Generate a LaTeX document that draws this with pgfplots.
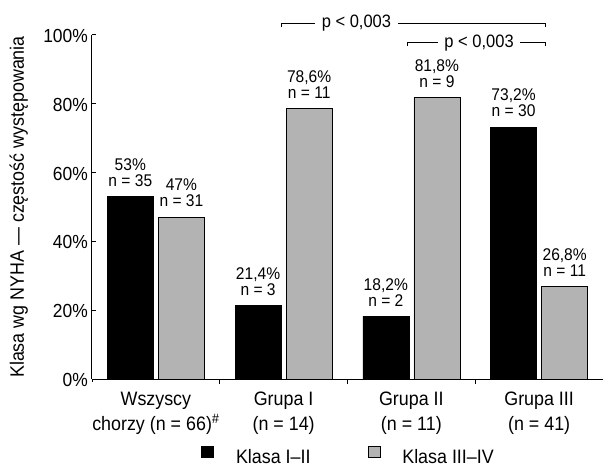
\documentclass[border=0pt]{standalone}
\usepackage{pgfplots}
\pgfplotsset{compat=1.18}
\usepackage{fontspec}
\setmainfont{Liberation Sans}[FakeStretch=0.92]

\definecolor{barGray}{RGB}{179,179,179}
\newcommand{\bigfont}{\fontsize{19.5}{25.5}\selectfont}

\begin{document}
\begin{tikzpicture}
\begin{axis}[
  scale only axis,
  width=511bp, height=344bp,
  xmin=-0.5, xmax=3.5,
  ymin=0, ymax=100,
  clip=false,
  axis x line=bottom, axis y line=left,
  axis line style={-, line width=1bp},
  major tick length=4bp,
  minor tick length=5bp,
  tick style={black, line width=1bp},
  tick align=inside,
  xtick={0,1,2,3},
  minor xtick={0.5,1.5,2.5},
  major x tick style={draw=none},
  xticklabels={Wszyscy\\chorzy (n = 66)\textsuperscript{\itshape\#},
               Grupa I\\(n = 14), Grupa II\\(n = 11), Grupa III\\(n = 41)},
  xticklabel style={align=center, font=\bigfont, inner sep=0pt, yshift=-8.7bp},
  ytick={0,20,40,60,80,100},
  yticklabels={0\%,20\%,40\%,60\%,80\%,100\%},
  yticklabel style={font=\fontsize{19}{20}\selectfont, inner sep=0pt, xshift=-4bp, yshift=-1bp},
  ylabel={Klasa wg NYHA — częstość występowania},
  ylabel style={at={(axis description cs:-0.1331,0.5)}, anchor=base, font=\bigfont},
  ybar, bar width=0.36,
  point meta=explicit symbolic,
  nodes near coords,
  every node near coord/.append style={align=center, anchor=south, inner sep=0pt,
      yshift=10bp, font=\fontsize{17}{16}\selectfont, black},
  legend columns=2,
  legend style={at={(0.5,-0.223)}, anchor=center, draw=none, inner sep=0pt,
      font=\bigfont, nodes={inner sep=0pt},
      /tikz/every odd column/.append style={column sep=22bp},
      /tikz/every even column/.append style={column sep=57bp}},
  legend image code/.code={\draw[#1, line width=0.8bp] (0bp,0bp) rectangle (12bp,11bp);},
]
\addplot[fill=black, draw=black, bar shift=-0.2] coordinates {
  (0,53)   [{53\%\\n = 35}]
  (1,21.4) [{21,4\%\\n = 3}]
  (2,18.2) [{18,2\%\\n = 2}]
  (3,73.2) [{73,2\%\\n = 30}]
};
\addlegendentry{Klasa I–II}
\addplot[fill=barGray, draw=black, line width=0.8bp, bar shift=0.2] coordinates {
  (0,47)   [{47\%\\n = 31}]
  (1,78.6) [{78,6\%\\n = 11}]
  (2,81.8) [{81,8\%\\n = 9}]
  (3,26.8) [{26,8\%\\n = 11}]
};
\addlegendentry{Klasa III–IV}

% brackets with p values
\draw[line width=0.8bp] (axis cs:0.984,102.3) -- (axis cs:0.984,103.5) -- (axis cs:3.047,103.5) -- (axis cs:3.047,102.3);
\node[fill=white, inner xsep=7bp, inner ysep=1bp, anchor=mid, font=\fontsize{18}{20}\selectfont]
  at (axis cs:1.57,102.8) {p < 0,003};
\draw[line width=0.8bp] (axis cs:1.97,96.8) -- (axis cs:1.97,97.9) -- (axis cs:3.047,97.9) -- (axis cs:3.047,96.8);
\node[fill=white, inner xsep=6bp, inner ysep=1bp, anchor=mid, font=\fontsize{18}{20}\selectfont]
  at (axis cs:2.53,97.2) {p < 0,003};

\coordinate (sw) at (rel axis cs:0,0);
\coordinate (ne) at (rel axis cs:1,1);
\end{axis}
\draw[line width=1bp] (sw) -- ++(0,-3bp);
\pgfresetboundingbox
\useasboundingbox ([xshift=-92bp,yshift=-89bp]sw) rectangle ([yshift=35bp]ne);
\end{tikzpicture}
\end{document}
